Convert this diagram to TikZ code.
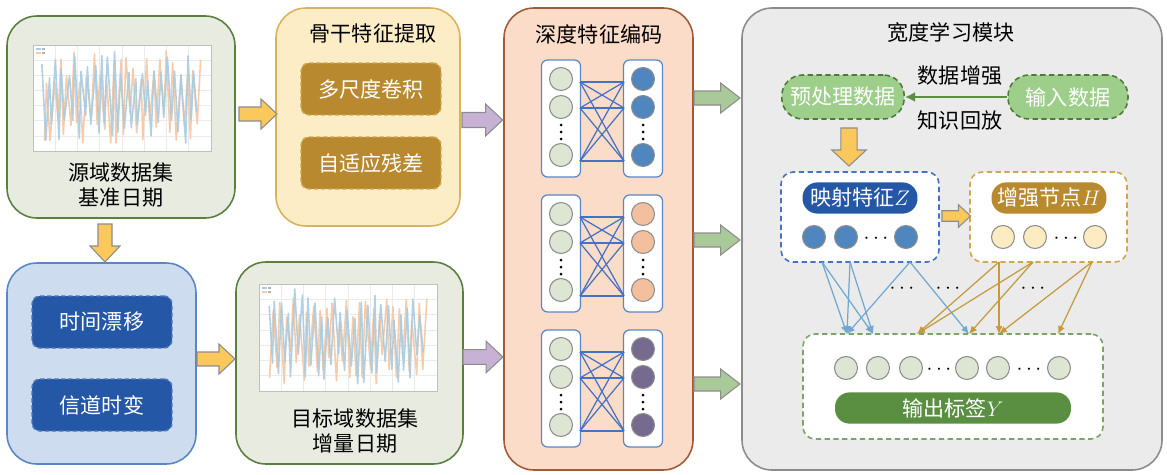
\documentclass[tikz,border=0pt]{standalone}
\usepackage{fontspec}
\setmainfont{Noto Sans CJK SC}
\usetikzlibrary{arrows.meta,fit}

\definecolor{srcfill}{HTML}{E7EBE0}
\definecolor{srcedge}{HTML}{5B7F3E}
\definecolor{drfill}{HTML}{CEDCEF}
\definecolor{dredge}{HTML}{5B86C5}
\definecolor{navy}{HTML}{2457A6}
\definecolor{navyedge}{HTML}{4F78B8}
\definecolor{bbfill}{HTML}{FDEDC6}
\definecolor{bbedge}{HTML}{D8B35E}
\definecolor{gold}{HTML}{B8892F}
\definecolor{goldedge}{HTML}{CFA652}
\definecolor{encfill}{HTML}{FADCC8}
\definecolor{encedge}{HTML}{A25B38}
\definecolor{blsfill}{HTML}{EBEBEB}
\definecolor{blsedge}{HTML}{8C8C8C}
\definecolor{yarr}{HTML}{FBC95B}
\definecolor{parr}{HTML}{C7B2D6}
\definecolor{garr}{HTML}{A9CA98}
\definecolor{inpale}{HTML}{DDE5D3}
\definecolor{encA}{HTML}{4F86BE}
\definecolor{encB}{HTML}{F2C09F}
\definecolor{encC}{HTML}{776A8F}
\definecolor{netblue}{HTML}{4472C4}
\definecolor{lightgreen}{HTML}{9DCF8A}
\definecolor{darkgreen}{HTML}{4E7A3A}
\definecolor{outgreen}{HTML}{5A8F42}
\definecolor{hpale}{HTML}{FDEBC2}
\definecolor{fanblue}{HTML}{6FA8D0}
\definecolor{fangold}{HTML}{C49A3C}
\definecolor{chartblue}{HTML}{A9CCE0}
\definecolor{chartorange}{HTML}{F7CBAA}

% a small line chart with two noisy, strongly oscillating series
\newcommand\drawchart[5]{%
  \fill[white] (#1,#2) rectangle (#3,#4);
  \foreach \k in {1,...,7}
    \draw[black!8, line width=0.3pt] ({#1+\k*(#3-#1)/8},#2) -- ({#1+\k*(#3-#1)/8},#4);
  \foreach \k in {1,...,6}
    \draw[black!8, line width=0.3pt] (#1,{#2+\k*(#4-#2)/7}) -- (#3,{#2+\k*(#4-#2)/7});
  \pgfmathsetseed{#5}
  \draw[chartorange, line width=0.9pt, line join=round]
    plot[domain=0:47, samples=48]
      ({#1+10+(\x+0.7*rnd)*(#3-#1-19)/48},
       {(#2+#4)/2+(cos(\x*180)*(0.35+0.65*rnd)+0.12*sin(\x*37))*((#4-#2)/2-9)});
  \pgfmathsetseed{#5+11}
  \draw[chartblue, line width=0.9pt, line join=round, opacity=0.9]
    plot[domain=0:47, samples=48]
      ({#1+8+(\x+0.7*rnd)*(#3-#1-19)/48},
       {(#2+#4)/2-(cos(\x*180)*(0.35+0.65*rnd)-0.12*sin(\x*29))*((#4-#2)/2-9)});
  \draw[chartblue, line width=0.6pt] (#1+3,#2+4) -- (#1+8,#2+4);
  \draw[chartorange, line width=0.6pt] (#1+3,#2+8) -- (#1+8,#2+8);
  \fill[black!30] (#1+9,#2+3) rectangle (#1+12,#2+5);
  \fill[black!30] (#1+9,#2+7) rectangle (#1+12,#2+9);
  \draw[black!25, line width=0.5pt] (#1,#2) rectangle (#3,#4);
}

\tikzset{
  panel/.style={rounded corners=0.6cm, line width=0.9pt, inner sep=0pt},
  tagbox/.style={rounded corners=0.16cm, dashed, dash pattern=on 2.5pt off 1.5pt,
    line width=0.8pt, text=white, minimum width=2.8cm, minimum height=1.04cm},
  colbox/.style={draw=dredge, fill=white, rounded corners=0.12cm, line width=0.7pt,
    minimum width=0.78cm, minimum height=2.34cm},
  neuron/.style={circle, draw=black!45, line width=0.6pt, minimum size=0.46cm, inner sep=0pt},
  netline/.style={netblue, line width=0.7pt},
  pill/.style={rounded corners=0.42cm, dashed, dash pattern=on 3pt off 2pt, line width=0.9pt,
    draw=darkgreen, fill=lightgreen, text=white, minimum height=0.88cm, minimum width=2.45cm},
  layerbox/.style={rounded corners=0.24cm, dashed, dash pattern=on 3pt off 2pt,
    line width=0.9pt, fill=white},
  badge/.style={rounded corners=0.3cm, text=white, minimum height=0.6cm, minimum width=2.3cm},
  fan/.style={line width=0.7pt, -{Latex[length=1.6mm,width=1.4mm]}},
  yarrowfill/.style={fill=yarr, draw=black!45, line width=0.6pt},
  parrowfill/.style={fill=parr, draw=black!45, line width=0.6pt},
  garrowfill/.style={fill=garr, draw=black!45, line width=0.6pt},
  pics/barrow/.style={code={
    \draw[pic actions] (0,-7) -- (22,-7) -- (22,-15) -- (38,0) -- (22,15) -- (22,7) -- (0,7) -- cycle;}},
}

\begin{document}
\begin{tikzpicture}[x=0.02cm, y=-0.02cm, font=\fontsize{12}{14.5}\selectfont]
\useasboundingbox (0,0) rectangle (1167,474);

% ---------- source dataset ----------
\node[panel, draw=srcedge, fill=srcfill, fit={(7,16) (235,218)}] (src) {};
\drawchart{33}{45}{211}{151}{17}
\node[align=center] (srctext) at (121,185) {源域数据集\\基准日期};

% ---------- drift factors ----------
\node[panel, draw=dredge, fill=drfill, fit={(7,263) (196,464)}] (drift) {};
\node[tagbox, fill=navy, draw=navyedge] (tdrift) at (102,322) {时间漂移};
\node[tagbox, fill=navy, draw=navyedge] (chvar) at (102,405) {信道时变};

% ---------- target dataset ----------
\node[panel, draw=srcedge, fill=srcfill, fit={(236,262) (463,464)}] (tgt) {};
\drawchart{259}{284}{437}{391}{29}
\node[align=center] (tgttext) at (355,431) {目标域数据集\\增量日期};

% ---------- backbone ----------
\node[panel, draw=bbedge, fill=bbfill, fit={(276,8) (460,226)}] (bb) {};
\node (bbtitle) at (373,33) {骨干特征提取};
\node[tagbox, fill=gold, draw=goldedge] (msconv) at (371,89) {多尺度卷积};
\node[tagbox, fill=gold, draw=goldedge] (adres) at (371,163) {自适应残差};

% ---------- deep feature encoding ----------
\node[panel, draw=encedge, fill=encfill, fit={(504,8) (693,470)}] (enc) {};
\node (enctitle) at (599,34) {深度特征编码};
\foreach \g/\yo/\col in {1/0/encA, 2/135/encB, 3/270/encC} {
  \node[colbox] (lb\g) at (561,118.5+\yo) {};
  \node[colbox] (rb\g) at (643,118.5+\yo) {};
  \node[neuron, fill=inpale] (l\g a) at (561,79+\yo) {};
  \node[neuron, fill=inpale] (l\g b) at (561,107+\yo) {};
  \node[neuron, fill=inpale] (l\g c) at (561,155+\yo) {};
  \node[neuron, fill=\col] (r\g a) at (643,79+\yo) {};
  \node[neuron, fill=\col] (r\g b) at (643,107+\yo) {};
  \node[neuron, fill=\col] (r\g c) at (643,155+\yo) {};
  \foreach \d in {125,132,139} {
    \fill (561,\d+\yo) circle (1.5);
    \fill (643,\d+\yo) circle (1.5);
  }
  \coordinate (pa\g) at (580,82+\yo);
  \coordinate (pb\g) at (580,108+\yo);
  \coordinate (pc\g) at (580,161+\yo);
  \coordinate (qa\g) at (624,82+\yo);
  \coordinate (qb\g) at (624,108+\yo);
  \coordinate (qc\g) at (624,161+\yo);
  \foreach \i in {a,b,c}
    \foreach \j in {a,b,c}
      \draw[netline] (p\i\g) -- (q\j\g);
}

% ---------- broad learning module ----------
\node[panel, draw=blsedge, fill=blsfill, fit={(742,8) (1162,470)}] (bls) {};
\node (blstitle) at (951,33) {宽度学习模块};

\node[pill] (prep) at (843,97) {预处理数据};
\node[pill, minimum width=2.4cm] (inp) at (1068,97) {输入数据};
\draw[outgreen, line width=1.1pt, -{Latex[length=2mm,width=2mm]}] (inp) -- (prep);
\node (aug) at (960,76) {数据增强};
\node (replay) at (960,120) {知识回放};

% mapped feature layer
\node[layerbox, draw=netblue, fit={(781,172) (939,262)}, inner sep=0pt] (zbox) {};
\node[badge, fill=navy] (zlab) at (860,198) {映射特征$Z$};
\node[neuron, fill=encA] (z1) at (814,237) {};
\node[neuron, fill=encA] (z2) at (846,237) {};
\node[neuron, fill=encA] (z3) at (906,237) {};
\node (zdots) at (876,239) {$\cdots$};

% enhancement node layer
\node[layerbox, draw=goldedge, fit={(970,172) (1127,262)}, inner sep=0pt] (hbox) {};
\node[badge, fill=gold] (hlab) at (1049,198) {增强节点$H$};
\node[neuron, fill=hpale] (h1) at (1003,237) {};
\node[neuron, fill=hpale] (h2) at (1035,237) {};
\node[neuron, fill=hpale] (h3) at (1095,237) {};
\node (hdots) at (1066,239) {$\cdots$};

% output layer
\node[layerbox, draw=outgreen!80, fit={(803,334) (1103,439)}, inner sep=0pt] (ybox) {};
\node[neuron, fill=inpale] (y1) at (846,368) {};
\node[neuron, fill=inpale] (y2) at (878,368) {};
\node[neuron, fill=inpale] (y3) at (911,368) {};
\node[neuron, fill=inpale] (y4) at (967,368) {};
\node[neuron, fill=inpale] (y5) at (998,368) {};
\node[neuron, fill=inpale] (y6) at (1059,368) {};
\node (ydotsa) at (939,370) {$\cdots$};
\node (ydotsb) at (1029,370) {$\cdots$};
\node[badge, fill=outgreen, rounded corners=0.29cm, minimum width=4.72cm, minimum height=0.58cm] (ylab) at (953,408) {输出标签$Y$};

% connections into the output layer
\coordinate (zs1) at (822,262);
\coordinate (zs2) at (850,262);
\coordinate (zs3) at (910,262);
\coordinate (hs1) at (999,262);
\coordinate (hs2) at (1033,262);
\coordinate (hs3) at (1092,262);
\coordinate (yt1) at (847,334);
\coordinate (yt2) at (873,334);
\coordinate (yt3) at (917,334);
\coordinate (yt4) at (969,334);
\coordinate (yt5) at (999,334);
\coordinate (yt6) at (1058,334);
\foreach \s/\t in {zs1/yt1, zs1/yt2, zs2/yt1, zs2/yt2, zs3/yt1, zs3/yt4}
  \draw[fan, fanblue] (\s) -- (\t);
\foreach \s/\t in {hs1/yt3, hs1/yt5, hs2/yt3, hs2/yt4, hs3/yt5, hs3/yt6}
  \draw[fan, fangold] (\s) -- (\t);
\node (fdots1) at (902,289) {$\cdots$};
\node (fdots2) at (948,289) {$\cdots$};
\node (fdots3) at (1033,289) {$\cdots$};

% ---------- block arrows between stages ----------
\pic[yarrowfill] at (239,114) {barrow};
\pic[yarrowfill, rotate=-90] at (105,224) {barrow};
\pic[yarrowfill] at (197,359) {barrow};
\pic[parrowfill, scale=1.07] at (462,120) {barrow};
\pic[parrowfill, scale=1.05] at (463,357) {barrow};
\pic[garrowfill, xscale=1.21] at (694,98) {barrow};
\pic[garrowfill, xscale=1.21] at (694,240) {barrow};
\pic[garrowfill, xscale=1.21] at (694,384) {barrow};
\pic[yarrowfill, rotate=-90, xscale=1.0, yscale=1.15] at (849,128) {barrow};
\pic[yarrowfill, scale=0.75] at (942,216) {barrow};
\end{tikzpicture}
\end{document}
